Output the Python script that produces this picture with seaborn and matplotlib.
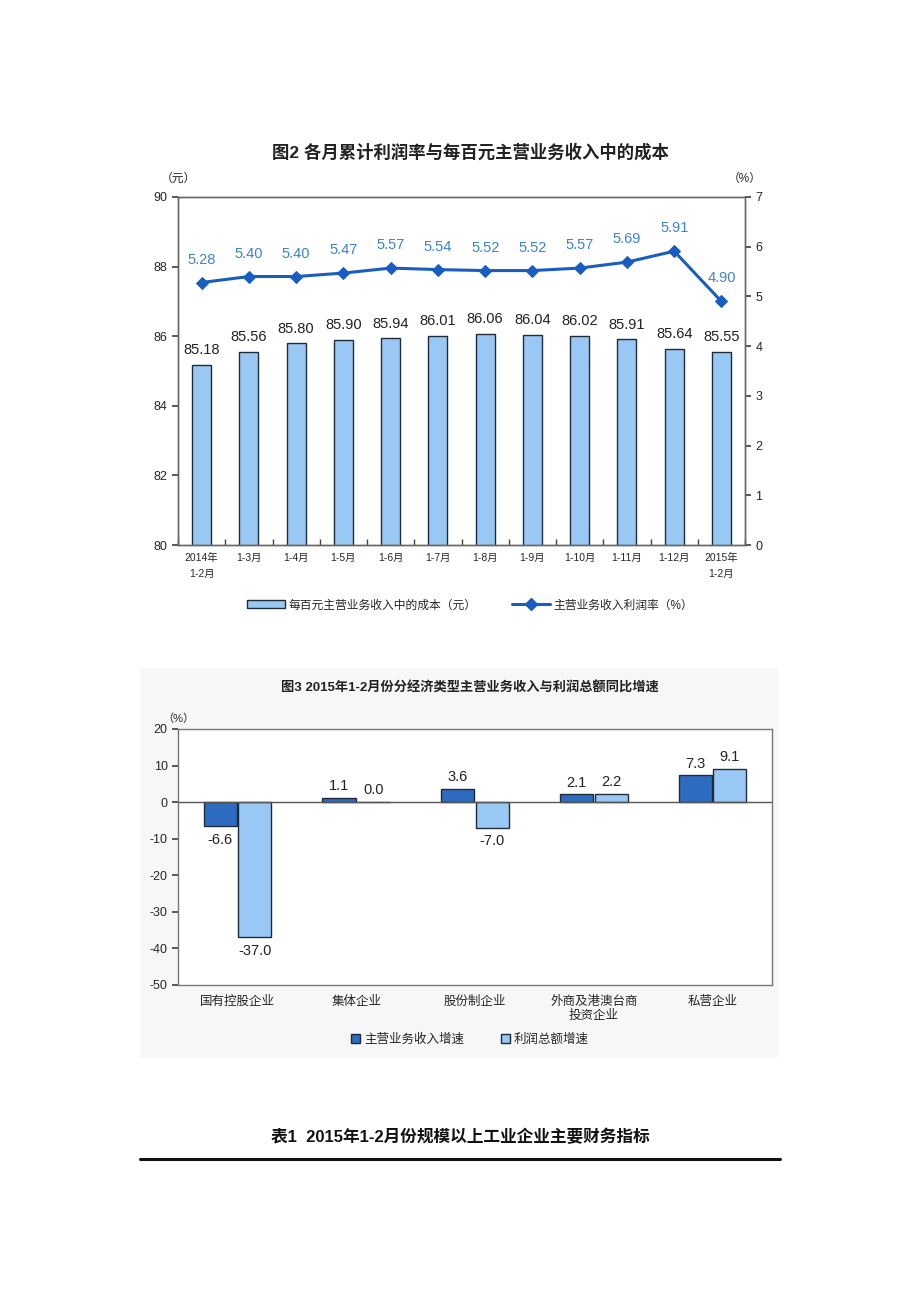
import numpy as np
import pandas as pd
import seaborn as sns
import matplotlib.pyplot as plt
from matplotlib.patches import Patch, Rectangle
from matplotlib.lines import Line2D

sns.set_theme(style="white")
plt.rcParams['font.family'] = ['Liberation Sans', 'Noto Sans CJK SC', 'DejaVu Sans']
plt.rcParams['axes.unicode_minus'] = False

# 图2 数据
months = ['2014年\n1-2月', '1-3月', '1-4月', '1-5月', '1-6月', '1-7月', '1-8月',
          '1-9月', '1-10月', '1-11月', '1-12月', '2015年\n1-2月']
cost = [85.18, 85.56, 85.80, 85.90, 85.94, 86.01, 86.06, 86.04, 86.02, 85.91, 85.64, 85.55]
profit_rate = [5.28, 5.40, 5.40, 5.47, 5.57, 5.54, 5.52, 5.52, 5.57, 5.69, 5.91, 4.90]

# 图3 数据
types = ['国有控股企业', '集体企业', '股份制企业', '外商及港澳台商\n投资企业', '私营企业']
revenue_growth = [-6.6, 1.1, 3.6, 2.1, 7.3]
profit_growth = [-37.0, 0.0, -7.0, 2.2, 9.1]

bar_light = '#99C8F4'
bar_dark = '#2D6CC0'
line_col = '#1A5DC0'
label_blue = '#3C82D2'
edge = '#1F2A3A'

fig = plt.figure(figsize=(9.2, 13.02), dpi=100)

# ---------- 图2 ----------
ax1 = fig.add_axes([0.1935, 0.5814, 0.6163, 0.2673])
sns.barplot(x=months, y=cost, ax=ax1, color=bar_light, edgecolor=edge,
            linewidth=1.0, width=0.4, saturation=1)
ax1.set_ylim(80, 90)
ax1.set_xlim(-0.5, 11.5)
ax1.set_yticks(range(80, 91, 2))
for i, v in enumerate(cost):
    ax1.text(i, v + 0.22, f'{v:.2f}', ha='center', va='bottom', fontsize=10.5, color='#222222')

ax2 = ax1.twinx()
sns.lineplot(x=np.arange(len(profit_rate)), y=profit_rate, ax=ax2, color=line_col,
             marker='D', markersize=6, markeredgecolor=line_col, linewidth=2.2)
ax2.set_ylim(0, 7)
ax2.set_yticks(range(0, 8))
for i, v in enumerate(profit_rate):
    ax2.text(i, v + 0.32, f'{v:.2f}', ha='center', va='bottom', fontsize=10.5, color=label_blue)

for a in (ax1, ax2):
    for s in a.spines.values():
        s.set_color('#666666')
        s.set_linewidth(1.0)
ax1.set_xticks(np.arange(12))
ax1.set_xticklabels(months, fontsize=7.5, linespacing=1.7)
ax1.tick_params(axis='x', length=0, pad=6)
ax1.set_xticks(np.arange(-0.5, 12, 1), minor=True)
ax1.tick_params(axis='x', which='minor', direction='in', length=4, color='#444444', bottom=True)
ax1.tick_params(axis='y', direction='out', length=4, left=True, labelsize=9, color='#444444')
ax2.tick_params(axis='y', direction='out', length=4, right=True, labelsize=9, color='#444444')
ax1.set_xlabel('')
ax1.set_ylabel('')
ax2.set_ylabel('')
ax1.set_yticklabels(['80', '82', '84', '86', '88', '90'], fontsize=9)
ax1.text(-0.5, 90.35, '（元）', ha='center', va='bottom', fontsize=8.5)
ax2.text(11.5, 7.25, '（%）', ha='center', va='bottom', fontsize=8.5)

fig.text(0.511, 0.8833, '图2 各月累计利润率与每百元主营业务收入中的成本', ha='center', va='center',
         fontsize=12.5, fontweight='bold', color='#222222')

h1 = Patch(facecolor=bar_light, edgecolor=edge, linewidth=1.0)
h2 = Line2D([], [], color=line_col, marker='D', markersize=6, linewidth=2.2)
fig.legend([h1, h2], ['每百元主营业务收入中的成本（元）', '主营业务收入利润率（%）'],
           loc='center', bbox_to_anchor=(0.511, 0.535), ncol=2, frameon=False,
           fontsize=8.5, handlelength=3.2, columnspacing=3.0, handletextpad=0.3)

# ---------- 图3 ----------
fig.patches.append(Rectangle((0.152, 0.1874), 0.6935, 0.2995, transform=fig.transFigure,
                             facecolor='#f7f7f7', edgecolor='none', zorder=-5))
ax3 = fig.add_axes([0.1935, 0.2435, 0.6457, 0.1966])
ax3.set_zorder(2)
df3 = pd.DataFrame({
    'type': types * 2,
    'val': revenue_growth + profit_growth,
    'series': ['主营业务收入增速'] * 5 + ['利润总额增速'] * 5,
})
sns.barplot(data=df3, x='type', y='val', hue='series', ax=ax3,
            palette=[bar_dark, bar_light], edgecolor=edge, linewidth=1.0,
            width=0.58, gap=0.04, saturation=1, legend=False)
ax3.set_facecolor('white')
ax3.set_xlim(-0.5, 4.5)
ax3.set_ylim(-50, 20)
ax3.set_yticks(range(-50, 21, 10))
ax3.axhline(0, color='#555555', linewidth=1.0)
for s in ax3.spines.values():
    s.set_color('#777777')
    s.set_linewidth(1.0)
ax3.tick_params(axis='y', direction='out', length=4, left=True, labelsize=9, color='#444444')
ax3.tick_params(axis='x', length=0, labelsize=9, pad=8)
ax3.set_xlabel('')
ax3.set_ylabel('')
off = 0.145
for i, (r, p) in enumerate(zip(revenue_growth, profit_growth)):
    for x, v in ((i - off, r), (i + off, p)):
        if v >= 0:
            ax3.text(x, v + 1.3, f'{v:.1f}', ha='center', va='bottom', fontsize=10.5, color='#222222')
        else:
            ax3.text(x, v - 1.8, f'{v:.1f}', ha='center', va='top', fontsize=10.5, color='#222222')
ax3.text(-0.5, 21.5, '（%）', ha='center', va='bottom', fontsize=8)

fig.text(0.511, 0.4716, '图3 2015年1-2月份分经济类型主营业务收入与利润总额同比增速', ha='center',
         va='center', fontsize=9.5, fontweight='bold', color='#222222')

h3 = Patch(facecolor=bar_dark, edgecolor=edge, linewidth=1.0)
h4 = Patch(facecolor=bar_light, edgecolor=edge, linewidth=1.0)
fig.legend([h3, h4], ['主营业务收入增速', '利润总额增速'], loc='center',
           bbox_to_anchor=(0.511, 0.2012), ncol=2, frameon=False, fontsize=9,
           handlelength=0.7, handleheight=0.7, columnspacing=3.0, handletextpad=0.3)

# ---------- 表1 标题 ----------
fig.text(0.5, 0.1267, '表1  2015年1-2月份规模以上工业企业主要财务指标', ha='center', va='center',
         fontsize=12, fontweight='bold', color='#111111')
fig.add_artist(Line2D([0.152, 0.848], [0.1098, 0.1098], transform=fig.transFigure,
                      color='#111111', linewidth=2.2))

fig.savefig('out.png', dpi=100, facecolor='white')
